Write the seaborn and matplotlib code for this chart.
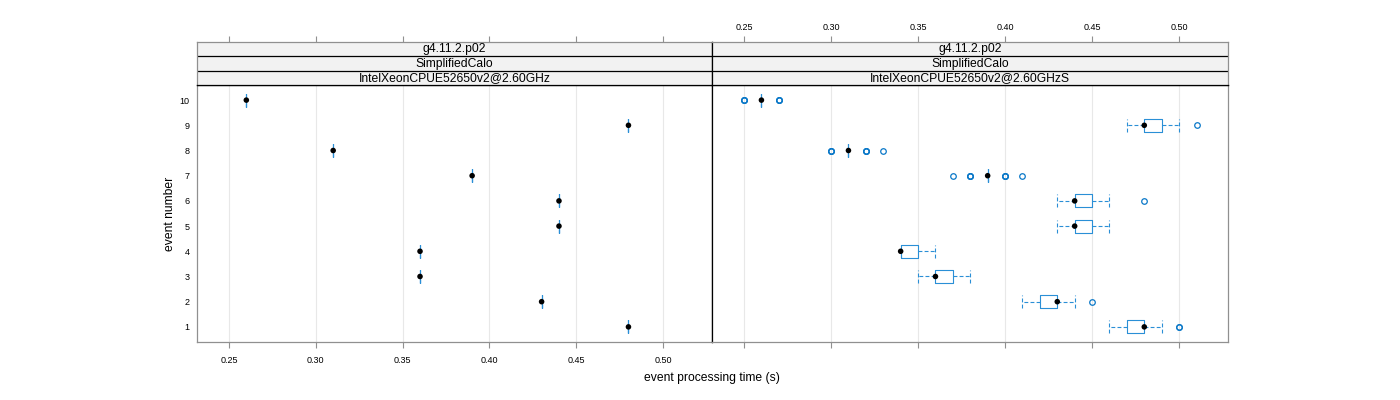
import numpy as np
import pandas as pd
import matplotlib
matplotlib.use("Agg")
import matplotlib.pyplot as plt
import seaborn as sns

# ---------------- data ----------------
events = [1, 2, 3, 4, 5, 6, 7, 8, 9, 10]

# panel 1: IntelXeonCPUE52650v2@2.60GHz (one measurement per event)
left_times = [0.48, 0.43, 0.36, 0.36, 0.44, 0.44, 0.39, 0.31, 0.48, 0.26]

# panel 2: IntelXeonCPUE52650v2@2.60GHzS (repeated measurements per event)
right_e1 = [0.46, 0.47, 0.47, 0.47, 0.48, 0.48, 0.48, 0.48, 0.48, 0.48, 0.49, 0.50, 0.50]
right_e2 = [0.41, 0.42, 0.42, 0.42, 0.43, 0.43, 0.43, 0.43, 0.44, 0.45]
right_e3 = [0.35, 0.36, 0.36, 0.36, 0.36, 0.36, 0.37, 0.37, 0.37, 0.38]
right_e4 = [0.34, 0.34, 0.34, 0.34, 0.34, 0.35, 0.35, 0.35, 0.36]
right_e5 = [0.43, 0.44, 0.44, 0.44, 0.44, 0.44, 0.45, 0.45, 0.45, 0.46]
right_e6 = [0.43, 0.44, 0.44, 0.44, 0.44, 0.44, 0.45, 0.45, 0.45, 0.46, 0.48]
right_e7 = [0.37, 0.38, 0.38, 0.38, 0.39, 0.39, 0.39, 0.39, 0.39, 0.39, 0.39, 0.39,
            0.39, 0.39, 0.40, 0.40, 0.40, 0.41]
right_e8 = [0.30, 0.30, 0.30, 0.31, 0.31, 0.31, 0.31, 0.31, 0.31, 0.31, 0.31, 0.31,
            0.31, 0.32, 0.32, 0.32, 0.33]
right_e9 = [0.47, 0.48, 0.48, 0.48, 0.48, 0.48, 0.49, 0.49, 0.49, 0.50, 0.51]
right_e10 = [0.25, 0.25, 0.25, 0.26, 0.26, 0.26, 0.26, 0.26, 0.26, 0.26, 0.26, 0.26,
             0.26, 0.27, 0.27, 0.27]

strip_release = "g4.11.2.p02"
strip_app = "SimplifiedCalo"
panel_names = ["IntelXeonCPUE52650v2@2.60GHz", "IntelXeonCPUE52650v2@2.60GHzS"]

xticks = [0.25, 0.30, 0.35, 0.40, 0.45, 0.50]
xticklabels = ["0.25", "0.30", "0.35", "0.40", "0.45", "0.50"]
ylabels = [str(e) for e in events]

# ---------------- frames ----------------
df_left = pd.DataFrame({"event": events, "time": left_times})
right_lists = [right_e1, right_e2, right_e3, right_e4, right_e5,
               right_e6, right_e7, right_e8, right_e9, right_e10]
df_right = pd.DataFrame({
    "event": np.concatenate([[e] * len(v) for e, v in zip(events, right_lists)]),
    "time": np.concatenate(right_lists),
})
frames = [df_left, df_right]

# ---------------- style ----------------
sns.set_theme(style="white")
plt.rcParams["font.family"] = ["Liberation Sans", "DejaVu Sans"]

W, H = 1400, 400
fig = plt.figure(figsize=(W / 100, H / 100), dpi=100)


def fx(px):
    return px / W


def fy(py):
    return 1 - py / H


panel_top, panel_bot, strip_top = 85, 342, 42
xs = [197, 712, 1228]
xlim = (0.2316, 0.5281)
ylim = (0.4, 10.6)
gray = "#909090"
box_color = "#2a8fd6"
flier_color = "#0a78c8"
grid_color = "#e8e8e8"
dash = (0, (3.5, 2))
tick_fs = 6.5

for i in range(2):
    l, r = xs[i], xs[i + 1]
    ax = fig.add_axes([fx(l), fy(panel_bot), (r - l) / W, (panel_bot - panel_top) / H])
    df = frames[i]
    kws = dict(data=df, x="time", y="event", orient="h", native_scale=True,
               width=0.52, fill=False, color=box_color, linewidth=0.8, whis=1.5,
               whiskerprops=dict(linestyle=dash),
               capprops=dict(linestyle=dash),
               medianprops=dict(linewidth=0),
               flierprops=dict(marker="o", markersize=4.0, markeredgewidth=0.9,
                               markeredgecolor=flier_color, markerfacecolor="none"),
               ax=ax)
    try:
        sns.boxplot(capwidths=0.52, **kws)
    except TypeError:
        sns.boxplot(**kws)
    med = df.groupby("event", as_index=False)["time"].median()
    sns.scatterplot(data=med, x="time", y="event", color="black", s=16,
                    edgecolor="none", zorder=5, ax=ax, legend=False)

    ax.set_xlim(*xlim)
    ax.set_ylim(*ylim)
    ax.set_xlabel("")
    ax.set_ylabel("")
    ax.set_xticks(xticks)
    ax.set_xticklabels(xticklabels)
    ax.set_yticks(events)
    ax.set_yticklabels(ylabels)
    ax.grid(axis="x", color=grid_color, linewidth=0.8)
    ax.grid(axis="y", visible=False)
    ax.set_axisbelow(True)
    ax.tick_params(axis="x", bottom=True, top=False, direction="out", length=4.3,
                   width=0.8, color=gray, labelsize=tick_fs, pad=5.5,
                   labelbottom=(i == 0), labelcolor="black")
    ax.tick_params(axis="y", left=False, right=False, length=0, labelsize=tick_fs, pad=5.5,
                   labelleft=(i == 0), labelcolor="black")
    for s in ax.spines.values():
        s.set_linewidth(0.9)
    ax.spines["bottom"].set_color(gray)
    ax.spines["top"].set_color("black")
    if i == 0:
        ax.spines["left"].set_color(gray)
        ax.spines["right"].set_color("black")
    else:
        ax.spines["left"].set_color("black")
        ax.spines["right"].set_color(gray)

    # strips
    sax = fig.add_axes([fx(l), fy(panel_top), (r - l) / W, (panel_top - strip_top) / H])
    sax.set_facecolor("#f2f2f2")
    sax.set_xlim(*xlim)
    sax.set_ylim(0, 3)
    sax.axhline(1, color="black", linewidth=0.9)
    sax.axhline(2, color="black", linewidth=0.9)
    texts = [panel_names[i], strip_app, strip_release]
    xmid = (xlim[0] + xlim[1]) / 2
    for k, t in enumerate(texts):
        sax.text(xmid, k + 0.5, t, ha="center", va="center", fontsize=8.7, color="black")
    sax.xaxis.tick_top()
    sax.set_xticks(xticks)
    sax.set_xticklabels(xticklabels)
    sax.set_yticks([])
    sax.tick_params(axis="x", top=True, bottom=False, direction="out", length=4.3,
                    width=0.8, color=gray, labelsize=tick_fs, pad=3,
                    labeltop=(i == 1), labelbottom=False, labelcolor="black")
    for s in sax.spines.values():
        s.set_linewidth(0.9)
    sax.spines["top"].set_color(gray)
    sax.spines["bottom"].set_color("black")
    if i == 0:
        sax.spines["left"].set_color(gray)
        sax.spines["right"].set_color("black")
    else:
        sax.spines["left"].set_color("black")
        sax.spines["right"].set_color(gray)

fig.text(fx(170), fy(213.5), "event number", rotation=90, ha="center", va="center",
         fontsize=8.7, color="black")
fig.text(fx(712), fy(378), "event processing time (s)", ha="center", va="center",
         fontsize=8.7, color="black")

fig.savefig("out.png", dpi=100)
